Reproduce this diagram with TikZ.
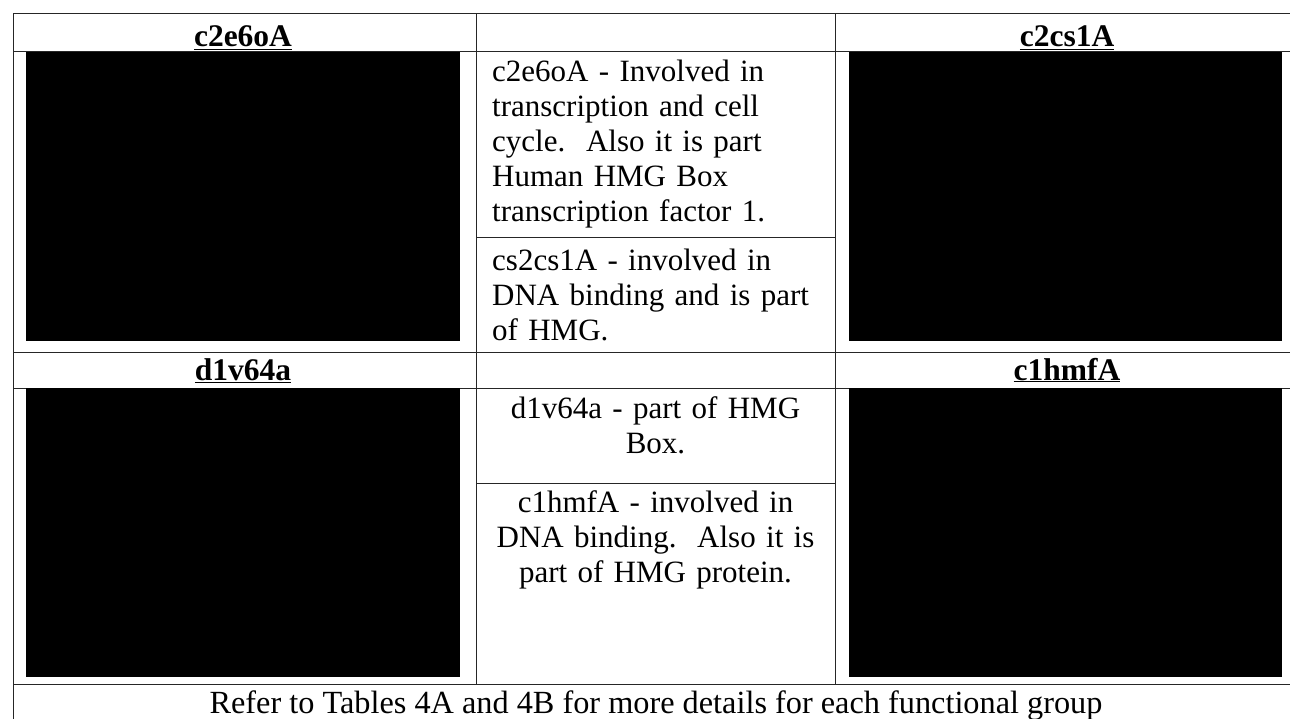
\documentclass[tikz,border=0pt]{standalone}
\usepackage{fontspec}
\setmainfont{Liberation Serif}
\begin{document}
\begin{tikzpicture}[x=1pt,y=-1pt,
  rule/.style={line width=1pt, black!85},
  blk/.style={fill=black, draw=none, inner sep=0pt, anchor=north west},
  hdr/.style={font=\fontsize{31.5}{35}\selectfont\bfseries, inner sep=0pt, anchor=base},
  txtl/.style={font=\fontsize{31}{35}\selectfont, inner sep=0pt, anchor=base west, text width=335pt, align=left},
  txtc/.style={font=\fontsize{31}{35}\selectfont, inner sep=0pt, anchor=base, text width=355pt, align=center}]
\useasboundingbox (0,0) rectangle (1290,719);
\fill[white] (0,0) rectangle (1290,719);
% table rules
\begin{scope}
\clip (0,0) rectangle (1290,719);
\draw[rule] (13,14) -- (1299,14);
\draw[rule] (13,52) -- (1299,52);
\draw[rule] (13,352) -- (1299,352);
\draw[rule] (13,388) -- (1299,388);
\draw[rule] (13,684) -- (1299,684);
\draw[rule] (476,238) -- (835,238);
\draw[rule] (476,483) -- (835,483);
\draw[rule] (13,14) -- (13,719);
\draw[rule] (476,14) -- (476,684);
\draw[rule] (835,14) -- (835,684);
\draw[rule] (1299,14) -- (1299,719);
\end{scope}
% images (black)
\node[blk, minimum width=434pt, minimum height=289pt] (img1) at (26,52) {};
\node[blk, minimum width=433pt, minimum height=289pt] (img2) at (849,52) {};
\node[blk, minimum width=434pt, minimum height=289pt] (img3) at (26,388) {};
\node[blk, minimum width=433pt, minimum height=289pt] (img4) at (849,388) {};
% headers
\node[hdr] (h1) at (243,47) {\underline{c2e6oA}};
\node[hdr] (h2) at (1067,47) {\underline{c2cs1A}};
\node[hdr] (h3) at (243,380) {\underline{d1v64a}};
\node[hdr] (h4) at (1067,380) {\underline{c1hmfA}};
% middle texts
\node[txtl] (m1) at (492,82) {c2e6oA - Involved in\\ transcription and cell\\ cycle.\ \ Also it is part\\ Human HMG Box\\ transcription factor 1.};
\node[txtl] (m2) at (492,271) {cs2cs1A - involved in\\ DNA binding and is part\\ of HMG.};
\node[txtc] (m3) at (655.5,418) {d1v64a - part of HMG\\ Box.};
\node[txtc] (m4) at (655.5,512) {c1hmfA - involved in\\ DNA binding.\ \ Also it is\\ part of HMG protein.};
% footer
\node[font=\fontsize{32.3}{35}\selectfont, inner sep=0pt, anchor=base] (foot) at (656,713) {Refer to Tables 4A and 4B for more details for each functional group};
\end{tikzpicture}
\end{document}
